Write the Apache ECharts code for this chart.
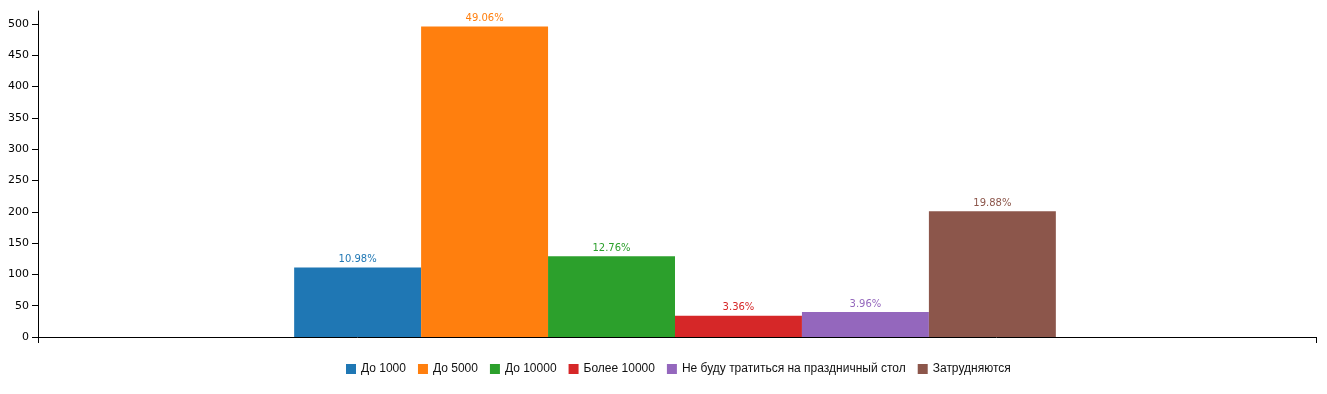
<!DOCTYPE html>
<html>
<head>
<meta charset="utf-8">
<script src="https://cdn.jsdelivr.net/npm/echarts@6/dist/echarts.min.js"></script>
<style>html,body{margin:0;padding:0;background:#fff}#c{width:1327px;height:394px}</style>
</head>
<body>
<div id="c"></div>
<script>
var seriesNames = ['До 1000', 'До 5000', 'До 10000', 'Более 10000', 'Не буду тратиться на праздничный стол', 'Затрудняются'];
var counts = [111, 496, 129, 34, 40, 201];
var percentLabels = ['10.98%', '49.06%', '12.76%', '3.36%', '3.96%', '19.88%'];
var colors = ['#1f77b4', '#ff7f0e', '#2ca02c', '#d62728', '#9467bd', '#8c564b'];
var yTicks = [0, 50, 100, 150, 200, 250, 300, 350, 400, 450, 500];
var yMax = 520.8;

var chart = echarts.init(document.getElementById('c'), null, {renderer: 'canvas'});
var series = seriesNames.map(function (n, i) {
  return {
    name: n,
    type: 'bar',
    xAxisIndex: 1,
    yAxisIndex: 1,
    data: [counts[i]],
    barGap: '0%',
    barCategoryGap: '40.4%',
    itemStyle: {color: colors[i]},
    label: {
      show: true,
      position: 'top',
      distance: 3,
      formatter: percentLabels[i],
      color: colors[i],
      fontFamily: 'DejaVu Sans',
      fontSize: 10
    },
    silent: true,
    animation: false
  };
});
chart.setOption({
  animation: false,
  color: colors,
  grid: [
    {left: 38, right: 11, top: 11, bottom: 57, containLabel: false},
    {left: 36, right: 13, top: 11, bottom: 57, containLabel: false}
  ],
  legend: {
    bottom: 19,
    left: 346,
    padding: 0,
    itemWidth: 10,
    itemHeight: 10,
    itemGap: 12,
    icon: 'rect',
    textStyle: {fontFamily: 'Liberation Sans', fontSize: 12, color: '#111'},
    data: seriesNames
  },
  xAxis: [{
    type: 'category',
    gridIndex: 0,
    data: [''],
    axisLine: {show: true, lineStyle: {color: '#000', width: 1}},
    axisTick: {show: true, length: 6, lineStyle: {color: '#000'}},
    axisLabel: {show: false},
    splitLine: {show: false}
  }, {
    type: 'category',
    gridIndex: 1,
    data: [''],
    show: false
  }],
  yAxis: [{
    type: 'value',
    gridIndex: 0,
    min: 0,
    max: yMax,
    interval: 50,
    axisLine: {show: true, lineStyle: {color: '#000', width: 1}},
    axisTick: {show: true, length: 6, lineStyle: {color: '#000'}},
    axisLabel: {
      fontFamily: 'DejaVu Sans', fontSize: 11, color: '#000', margin: 9,
      showMaxLabel: false,
      formatter: function (v) { return yTicks.indexOf(v) >= 0 ? String(v) : ''; }
    },
    splitLine: {show: false}
  }, {
    type: 'value',
    gridIndex: 1,
    min: 0,
    max: yMax,
    show: false
  }],
  series: series
});
</script>
</body>
</html>
